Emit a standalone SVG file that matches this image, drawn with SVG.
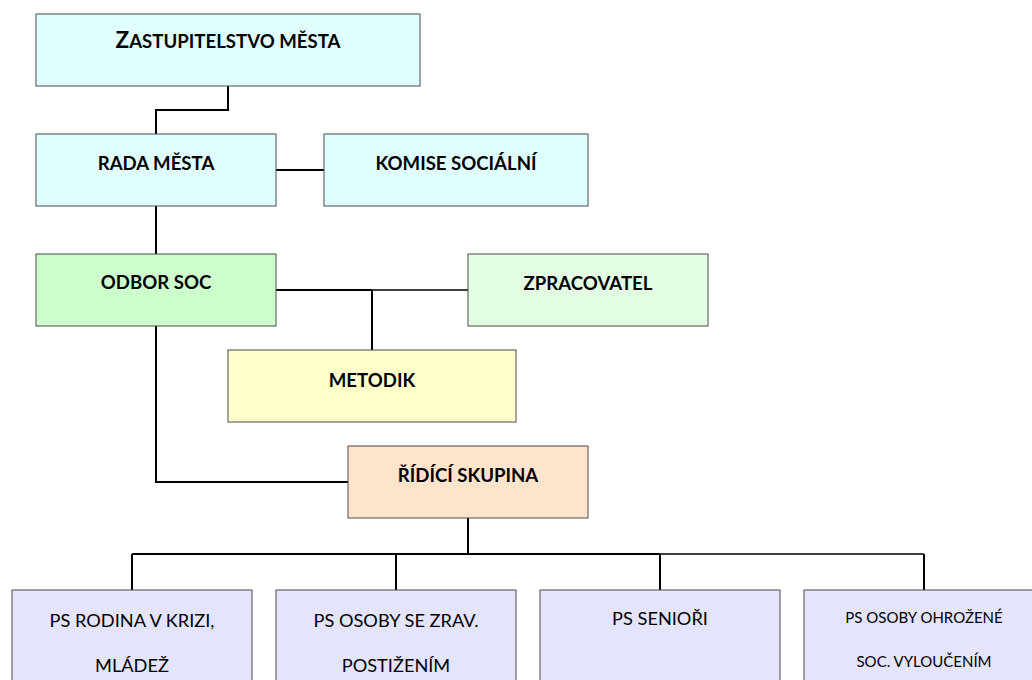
<svg xmlns="http://www.w3.org/2000/svg" width="1032" height="680" viewBox="0 0 1032 680">
<style>
.box{stroke:#4a4a4a;stroke-width:1}
.cyan{fill:#e0ffff}
.green{fill:#ccffcc}
.lgreen{fill:#e3fde3}
.yellow{fill:#ffffcc}
.peach{fill:#ffe4cc}
.lav{fill:#e4e4fc}
.b{font-family:Lato,"Liberation Sans",sans-serif;font-weight:bold;font-size:18.6px;fill:#000;text-anchor:middle}
.r{font-family:Lato,"Liberation Sans",sans-serif;font-size:18.2px;fill:#000;text-anchor:middle}
.s{font-size:15px}
.c{fill:none;stroke:#000;stroke-width:2}
.t{fill:none;stroke:#000;stroke-width:1.5}
</style>
<g id="connectors">
<polyline class="c" points="228,86 228,110 156,110 156,134"/>
<line class="c" x1="276" y1="170" x2="324" y2="170"/>
<line class="c" x1="156" y1="206" x2="156" y2="254"/>
<line class="c" x1="276" y1="290" x2="372" y2="290"/>
<line class="t" x1="372" y1="290" x2="468" y2="290"/>
<line class="c" x1="372" y1="290" x2="372" y2="350"/>
<polyline class="c" points="156,326 156,482 348,482"/>
<line class="c" x1="468" y1="518" x2="468" y2="554"/>
<line class="c" x1="132" y1="554" x2="660" y2="554"/>
<line class="t" x1="660" y1="554" x2="924" y2="554"/>
<line class="c" x1="132" y1="554" x2="132" y2="590"/>
<line class="c" x1="396" y1="554" x2="396" y2="590"/>
<line class="c" x1="660" y1="554" x2="660" y2="590"/>
<line class="c" x1="924" y1="554" x2="924" y2="590"/>
</g>
<g id="zastupitelstvo">
<rect class="box cyan" x="36" y="14" width="384" height="72"/>
<text class="b" x="228" y="48" font-size="18.4"><tspan font-size="22.5">Z</tspan>ASTUPITELSTVO MĚSTA</text>
</g>
<g id="rada">
<rect class="box cyan" x="36" y="134" width="240" height="72"/>
<text class="b" x="156" y="170">RADA MĚSTA</text>
</g>
<g id="komise">
<rect class="box cyan" x="324" y="134" width="264" height="72"/>
<text class="b" x="456" y="170">KOMISE SOCIÁLNÍ</text>
</g>
<g id="odbor">
<rect class="box green" x="36" y="254" width="240" height="72"/>
<text class="b" x="156" y="289">ODBOR SOC</text>
</g>
<g id="zpracovatel">
<rect class="box lgreen" x="468" y="254" width="240" height="72"/>
<text class="b" x="588" y="290">ZPRACOVATEL</text>
</g>
<g id="metodik">
<rect class="box yellow" x="228" y="350" width="288" height="72"/>
<text class="b" x="372" y="387">METODIK</text>
</g>
<g id="ridici">
<rect class="box peach" x="348" y="446" width="240" height="72"/>
<text class="b" x="468" y="482">ŘÍDÍCÍ SKUPINA</text>
</g>
<g id="ps-rodina">
<rect class="box lav" x="12" y="590" width="240" height="110"/>
<text class="r" x="132" y="627">PS RODINA V KRIZI,</text>
<text class="r" x="132" y="672">MLÁDEŽ</text>
</g>
<g id="ps-zrav">
<rect class="box lav" x="276" y="590" width="240" height="110"/>
<text class="r" x="396" y="627">PS OSOBY SE ZRAV.</text>
<text class="r" x="396" y="672">POSTIŽENÍM</text>
</g>
<g id="ps-seniori">
<rect class="box lav" x="540" y="590" width="240" height="110"/>
<text class="r" x="660" y="625">PS SENIOŘI</text>
</g>
<g id="ps-ohrozene">
<rect class="box lav" x="804" y="590" width="240" height="110"/>
<text class="r s" x="924" y="623">PS OSOBY OHROŽENÉ</text>
<text class="r s" x="924" y="667">SOC. VYLOUČENÍM</text>
</g>
</svg>
